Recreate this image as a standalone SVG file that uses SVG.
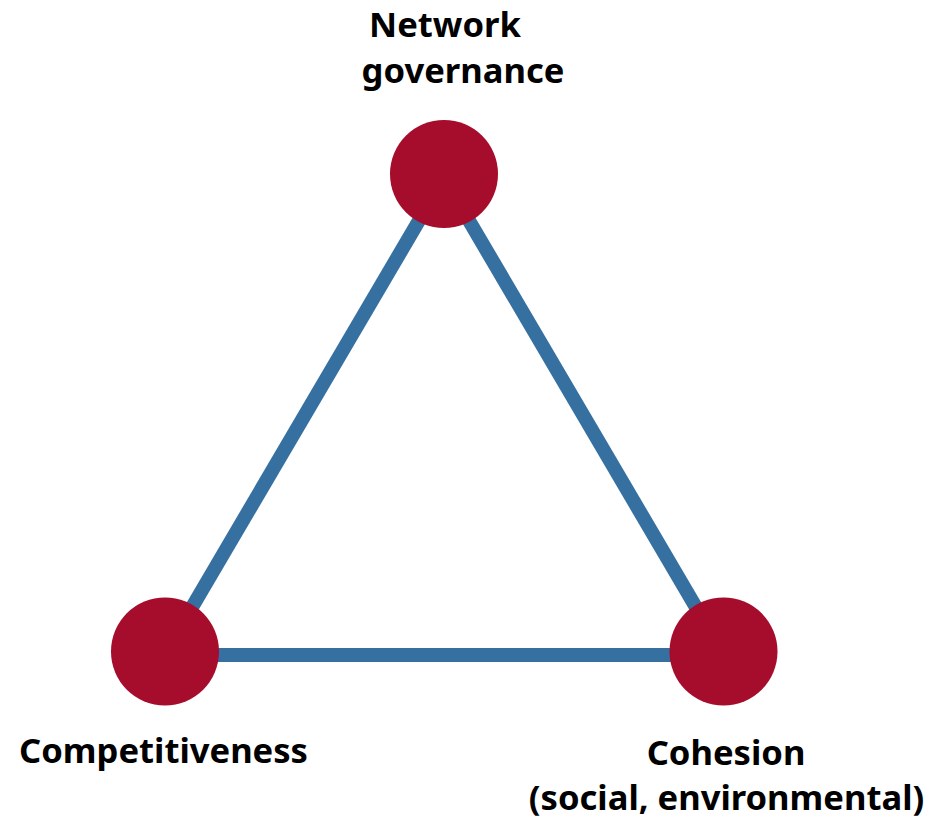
<svg xmlns="http://www.w3.org/2000/svg" width="939" height="822" viewBox="0 0 939 822">
<style>
.edge{stroke:#3570A1;stroke-width:14;fill:none}
.node{fill:#A60C2C}
.lbl{font-family:"Noto Sans","Open Sans","DejaVu Sans",sans-serif;font-weight:bold;font-size:34.6px;fill:#000;text-anchor:middle}
</style>
<rect width="939" height="822" fill="#fff"/>
<g id="connectors">
<line class="edge" x1="444" y1="178" x2="164" y2="655"/>
<line class="edge" x1="444" y1="178" x2="724" y2="655"/>
<line class="edge" x1="165" y1="655" x2="723" y2="655"/>
</g>
<g id="network-governance">
<circle class="node" cx="444" cy="174" r="54"/>
<text class="lbl" x="445" y="37">Network</text>
<text class="lbl" x="463" y="83">governance</text>
</g>
<g id="competitiveness">
<circle class="node" cx="165" cy="651.5" r="54"/>
<text class="lbl" x="163.5" y="763">Competitiveness</text>
</g>
<g id="cohesion">
<circle class="node" cx="723.5" cy="651.5" r="54"/>
<text class="lbl" x="726" y="765">Cohesion</text>
<text class="lbl" x="726.5" y="810">(social, environmental)</text>
</g>
</svg>
